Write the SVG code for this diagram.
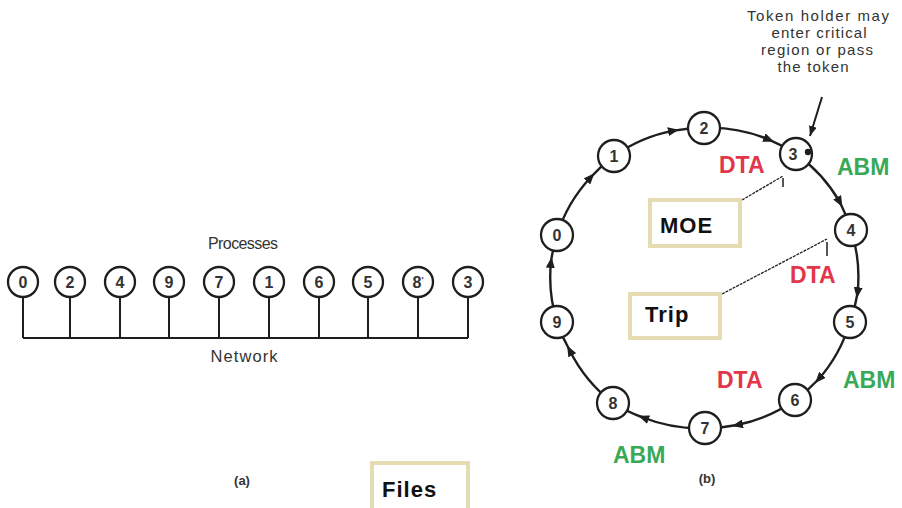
<svg xmlns="http://www.w3.org/2000/svg" width="902" height="508" viewBox="0 0 902 508">
  <style>
    .bg { fill: #ffffff; }
    .proc { fill: #ffffff; stroke: #1e1e1e; stroke-width: 2.3; }
    .digit { font-family: "Liberation Sans", Arial, sans-serif; font-size: 16px; font-weight: bold; fill: #333333; text-anchor: middle; }
    .wire { fill: none; stroke: #1e1e1e; stroke-width: 2; }
    .ring { fill: none; stroke: #1e1e1e; stroke-width: 2.4; marker-mid: url(#head); }
    .lead { fill: none; stroke: #1e1e1e; stroke-width: 1.3; stroke-dasharray: 3 1; }
    .tick { fill: none; stroke: #1e1e1e; stroke-width: 1.5; }
    .scan { font-family: "Liberation Sans", Arial, sans-serif; fill: #333333; text-anchor: middle; }
    .tag { font-family: "Liberation Sans", Arial, sans-serif; font-size: 23px; font-weight: bold; }
    .dta { fill: #e2364b; }
    .abm { fill: #39a957; }
    .box { fill: #ffffff; stroke: #e6dcb4; stroke-width: 4; }
    .boxtext { font-family: "Liberation Sans", Arial, sans-serif; font-size: 22px; font-weight: bold; fill: #111111; letter-spacing: 1px; }
  </style>
  <defs>
    <marker id="head" viewBox="0 0 11 9" refX="6" refY="4.5" markerWidth="11" markerHeight="9" markerUnits="userSpaceOnUse" orient="auto">
      <path d="M0,0 L11,4.5 L0,9 z" fill="#1e1e1e"/>
    </marker>
    <marker id="pointer" viewBox="0 0 10 8" refX="10" refY="4" markerWidth="10" markerHeight="8" markerUnits="userSpaceOnUse" orient="auto">
      <path d="M0,0 L10,4 L0,8 z" fill="#1e1e1e"/>
    </marker>
  </defs>

  <rect class="bg" x="0" y="0" width="902" height="508"/>

  <g id="connectors">
    <!-- (a) shared bus and process drops -->
    <path class="wire" d="M23,338 H468"/>
    <path class="wire" d="M23,297 V338 M70,297 V338 M120,297 V338 M169,297 V338 M219,297 V338 M269,297 V338 M319,297 V338 M368,297 V338 M418,297 V338 M468,297 V338"/>

    <!-- (b) token ring, clockwise -->
    <path class="ring" d="M557,235 A151,151 0 0 1 591,177 A151,151 0 0 1 614,156"/>
    <path class="ring" d="M614,156 A151,151 0 0 1 673.9,130.6 A151,151 0 0 1 704,128"/>
    <path class="ring" d="M704,128 A151,151 0 0 1 769.4,139.8 A151,151 0 0 1 796,154"/>
    <path class="ring" d="M796,154 A151,151 0 0 1 840,202.5 A151,151 0 0 1 851,230"/>
    <path class="ring" d="M851,230 A151,151 0 0 1 857.5,293.2 A151,151 0 0 1 850,322"/>
    <path class="ring" d="M850,322 A151,151 0 0 1 818.5,379.3 A151,151 0 0 1 795,400"/>
    <path class="ring" d="M795,400 A151,151 0 0 1 737,425 A151,151 0 0 1 705,428"/>
    <path class="ring" d="M705,428 A151,151 0 0 1 643,417.5 A151,151 0 0 1 613,403"/>
    <path class="ring" d="M613,403 A151,151 0 0 1 569.5,350 A151,151 0 0 1 557,322"/>
    <path class="ring" d="M557,322 A151,151 0 0 1 551,262 A151,151 0 0 1 557,235"/>

    <!-- token pointer -->
    <path class="wire" d="M822,97 L810,136" marker-end="url(#pointer)" stroke-width="1.8"/>

    <!-- leader lines to the boxes -->
    <path class="lead" d="M742,200 L783,176"/>
    <path class="tick" d="M783,178 L783,187"/>
    <path class="lead" d="M722,294 L827,239"/>
    <path class="tick" d="M827,242 L827,256"/>
  </g>

  <text class="scan" x="243" y="249" font-size="16" textLength="70" lengthAdjust="spacing">Processes</text>
  <text class="scan" x="244" y="362" font-size="16.5" textLength="67" lengthAdjust="spacing">Network</text>

  <g id="a0"><circle class="proc" cx="23" cy="282" r="15"/><text class="digit" x="23" y="288">0</text></g>
  <g id="a2"><circle class="proc" cx="70" cy="282" r="15"/><text class="digit" x="70" y="288">2</text></g>
  <g id="a4"><circle class="proc" cx="120" cy="282" r="15"/><text class="digit" x="120" y="288">4</text></g>
  <g id="a9"><circle class="proc" cx="169" cy="282" r="15"/><text class="digit" x="169" y="288">9</text></g>
  <g id="a7"><circle class="proc" cx="219" cy="282" r="15"/><text class="digit" x="219" y="288">7</text></g>
  <g id="a1"><circle class="proc" cx="269" cy="282" r="15"/><text class="digit" x="269" y="288">1</text></g>
  <g id="a6"><circle class="proc" cx="319" cy="282" r="15"/><text class="digit" x="319" y="288">6</text></g>
  <g id="a5"><circle class="proc" cx="368" cy="282" r="15"/><text class="digit" x="368" y="288">5</text></g>
  <g id="a8"><circle class="proc" cx="418" cy="282" r="15"/><text class="digit" x="418" y="288">8<tspan font-size="9" dy="-5">'</tspan></text></g>
  <g id="a3"><circle class="proc" cx="468" cy="282" r="15"/><text class="digit" x="468" y="288">3</text></g>

  <text class="scan" x="242" y="485" font-size="13" font-weight="bold" fill="#555555">(a)</text>

  <g id="files">
    <rect class="box" x="372" y="463" width="96" height="52"/>
    <text class="boxtext" x="382" y="497">Files</text>
  </g>

  <!-- (b) ring nodes -->
  <g id="b0"><circle class="proc" cx="557" cy="235" r="16"/><text class="digit" x="557" y="241" font-size="15">0</text></g>
  <g id="b1"><circle class="proc" cx="614" cy="156" r="16"/><text class="digit" x="614" y="162" font-size="15">1</text></g>
  <g id="b2"><circle class="proc" cx="704" cy="128" r="16"/><text class="digit" x="704" y="134" font-size="15">2</text></g>
  <g id="b3"><circle class="proc" cx="796" cy="154" r="16"/><text class="digit" x="793" y="160" font-size="15">3</text><circle cx="808" cy="152" r="3.2" fill="#1e1e1e"/></g>
  <g id="b4"><circle class="proc" cx="851" cy="230" r="16"/><text class="digit" x="851" y="236" font-size="15">4</text></g>
  <g id="b5"><circle class="proc" cx="850" cy="322" r="16"/><text class="digit" x="850" y="328" font-size="15">5</text></g>
  <g id="b6"><circle class="proc" cx="795" cy="400" r="16"/><text class="digit" x="795" y="406" font-size="15">6</text></g>
  <g id="b7"><circle class="proc" cx="705" cy="428" r="16"/><text class="digit" x="705" y="434" font-size="15">7</text></g>
  <g id="b8"><circle class="proc" cx="613" cy="403" r="16"/><text class="digit" x="613" y="409" font-size="15">8</text></g>
  <g id="b9"><circle class="proc" cx="557" cy="322" r="16"/><text class="digit" x="557" y="328" font-size="15">9</text></g>

  <g id="token-note" class="scan" font-size="15">
    <text x="818" y="21" textLength="142" lengthAdjust="spacing">Token holder may</text>
    <text x="819" y="38" textLength="95" lengthAdjust="spacing">enter critical</text>
    <text x="817" y="55" textLength="112" lengthAdjust="spacing">region or pass</text>
    <text x="813" y="72" textLength="71" lengthAdjust="spacing">the token</text>
  </g>

  <g id="moe">
    <rect class="box" x="650" y="200" width="90" height="46"/>
    <text class="boxtext" x="660" y="233">MOE</text>
  </g>
  <g id="trip">
    <rect class="box" x="630" y="294" width="90" height="44"/>
    <text class="boxtext" x="645" y="322">Trip</text>
  </g>

  <g id="labels" class="tag">
    <text class="dta" x="719" y="173">DTA</text>
    <text class="abm" x="837" y="175">ABM</text>
    <text class="dta" x="790" y="283">DTA</text>
    <text class="dta" x="717" y="388">DTA</text>
    <text class="abm" x="843" y="388">ABM</text>
    <text class="abm" x="613" y="463">ABM</text>
  </g>

  <text class="scan" x="707" y="483" font-size="13" font-weight="bold" fill="#555555">(b)</text>
</svg>
